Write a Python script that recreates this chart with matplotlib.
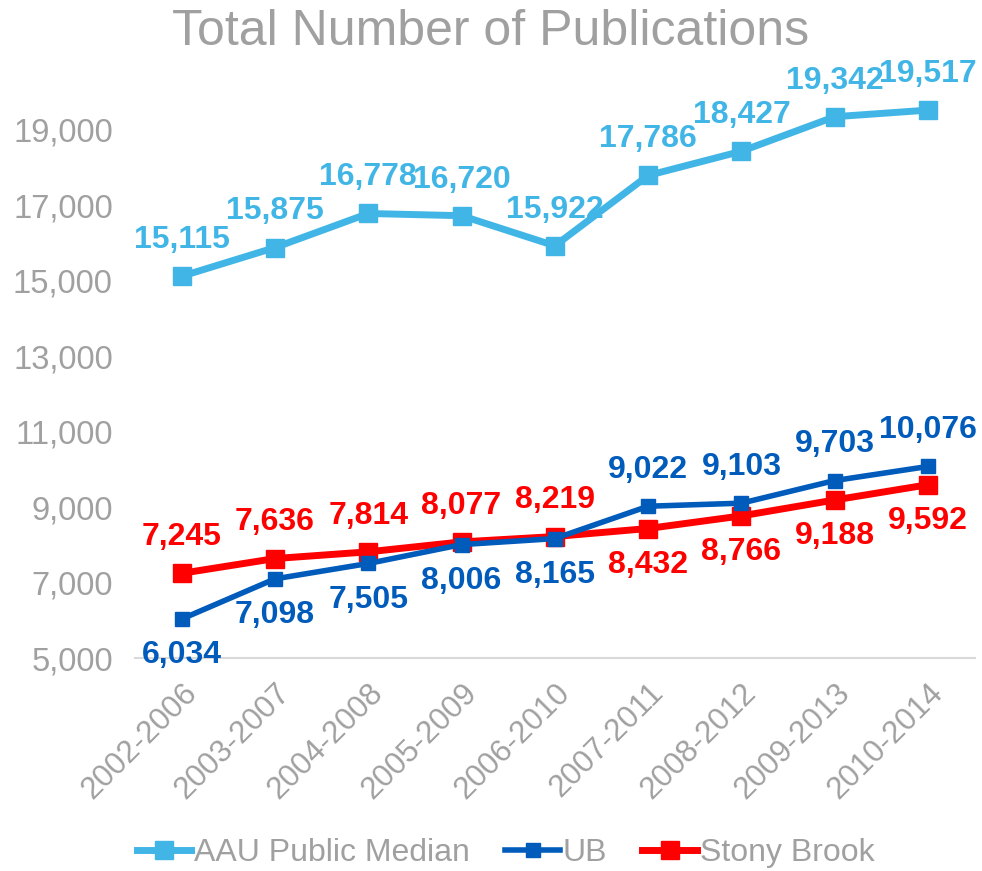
import matplotlib.pyplot as plt
from matplotlib.ticker import FuncFormatter

plt.rcParams['font.family'] = ['Liberation Sans', 'DejaVu Sans']

periods = ['2002-2006', '2003-2007', '2004-2008', '2005-2009', '2006-2010',
           '2007-2011', '2008-2012', '2009-2013', '2010-2014']
aau = [15115, 15875, 16778, 16720, 15922, 17786, 18427, 19342, 19517]
ub = [6034, 7098, 7505, 8006, 8165, 9022, 9103, 9703, 10076]
sb = [7245, 7636, 7814, 8077, 8219, 8432, 8766, 9188, 9592]

# label above (+1) or below (-1) the point
ub_side = [-1, -1, -1, -1, -1, 1, 1, 1, 1]
sb_side = [1, 1, 1, 1, 1, -1, -1, -1, -1]
aau_side = [1] * 9

c_aau = '#41B6E6'
c_ub = '#005BBB'
c_sb = '#FF0000'
gray = '#A0A0A0'

fig = plt.figure(figsize=(9.82, 8.71), dpi=100)
ax = fig.add_axes([0.1375, 0.2445, 0.855, 0.65])

x = list(range(len(periods)))
ax.plot(x, aau, color=c_aau, lw=5, marker='s', ms=13, label='AAU Public Median', zorder=3)
ax.plot(x, ub, color=c_ub, lw=4, marker='s', ms=10, label='UB', zorder=4)
ax.plot(x, sb, color=c_sb, lw=5, marker='s', ms=13, label='Stony Brook', zorder=3)

for vals, sides, col in [(aau, aau_side, c_aau), (ub, ub_side, c_ub), (sb, sb_side, c_sb)]:
    for i, (v, s) in enumerate(zip(vals, sides)):
        ax.annotate(f'{v:,}', (i, v), xytext=(0, 26 * s), textcoords='offset points',
                    ha='center', va='center', fontsize=23, fontweight='bold', color=col)

ax.set_xlim(-0.5, len(periods) - 0.5)
ax.set_ylim(5000, 20000)
ax.set_yticks(range(5000, 20001, 2000))
ax.yaxis.set_major_formatter(FuncFormatter(lambda v, p: f'{int(v):,}'))
ax.set_xticks(x)
ax.set_xticklabels(periods, rotation=45, ha='right', rotation_mode='anchor')
ax.tick_params(axis='both', length=0, labelsize=23.5, labelcolor=gray)
ax.tick_params(axis='y', pad=16)
ax.tick_params(axis='x', pad=14, labelsize=22.5)

for sp in ['top', 'right', 'left']:
    ax.spines[sp].set_visible(False)
ax.spines['bottom'].set_color('#D9D9D9')
ax.spines['bottom'].set_linewidth(1.5)

fig.suptitle('Total Number of Publications', fontsize=36, color=gray, y=0.99, va='top')

leg = fig.legend(loc='lower center', bbox_to_anchor=(0.515, -0.03), ncol=3, frameon=False,
                 fontsize=23, handlelength=1.7, handletextpad=0.1, columnspacing=1.1)
for t in leg.get_texts():
    t.set_color(gray)

fig.savefig('out.png', dpi=100)
